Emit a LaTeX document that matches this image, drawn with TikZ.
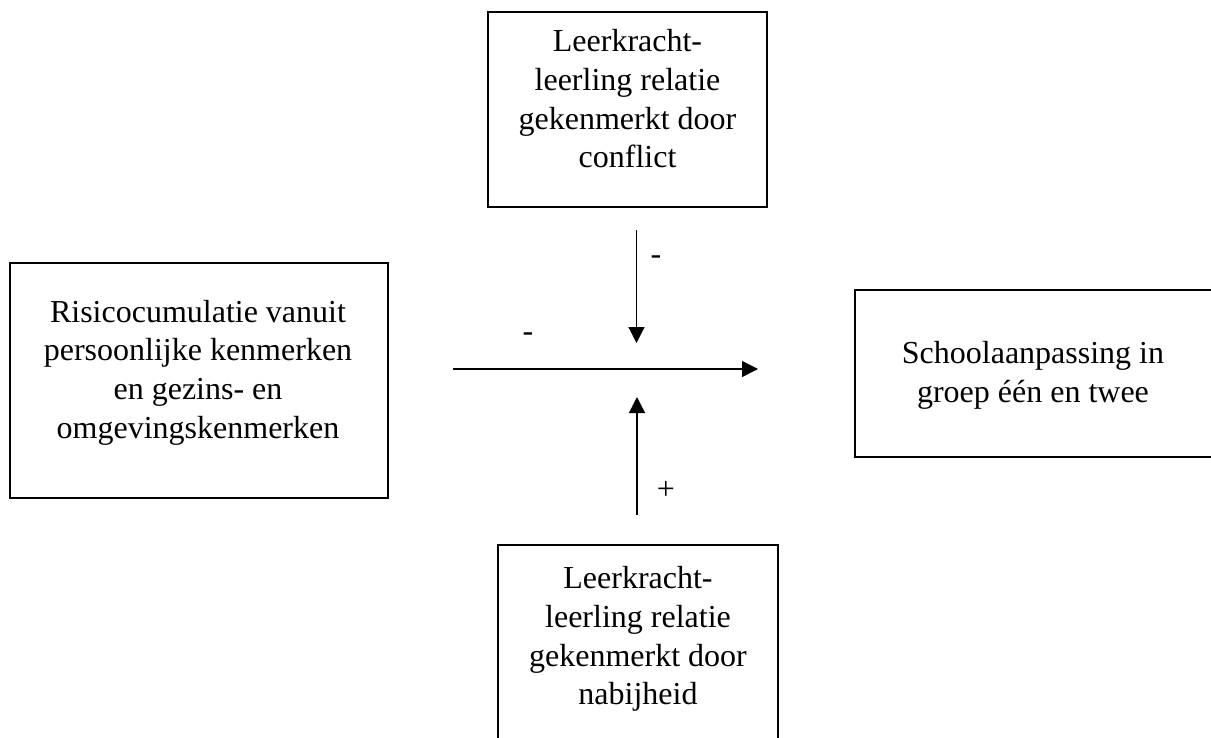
\documentclass[tikz,border=0pt]{standalone}
\usepackage{fontspec}
\setmainfont{Liberation Serif}
\usetikzlibrary{arrows.meta}
\begin{document}
\begin{tikzpicture}[x=0.5pt,y=-0.5pt,
  box/.style={draw=black, line width=1pt, rectangle, inner sep=0pt, fill=none},
  txt/.style={align=center, inner sep=0pt, font=\fontsize{16}{19.35}\selectfont},
  lbl/.style={inner sep=0pt, font=\fontsize{16}{19.35}\selectfont},
  arr/.style={line width=0.6pt, -{Triangle[length=8pt,width=8pt]}}]
\fill[white] (0,0) rectangle (1211,738);
\useasboundingbox (0,0) rectangle (1211,738);
\clip (0,0) rectangle (1211,738);
% boxes
\node[box, minimum width=139.5pt, minimum height=97.5pt] (top) at (627.5,109.5) {};
\node[box, minimum width=189pt, minimum height=117.5pt] (left) at (199,380.5) {};
\node[box, minimum width=179pt, minimum height=83.5pt] (right) at (1034,373.5) {};
\node[box, minimum width=140pt, minimum height=107.5pt] (bottom) at (638,652.5) {};
% texts
\node[txt] (toptxt) at (627.5,99) {Leerkracht-\\leerling relatie\\gekenmerkt door\\conflict};
\node[txt] (lefttxt) at (198,372.5) {Risicocumulatie vanuit\\persoonlijke kenmerken\\en gezins- en\\omgevingskenmerken};
\node[txt] (righttxt) at (1033,375) {Schoolaanpassing in\\groep één en twee};
\node[txt] (bottomtxt) at (638,639) {Leerkracht-\\leerling relatie\\gekenmerkt door\\nabijheid};
% arrow end points
\coordinate (hs) at (453,369);
\coordinate (he) at (758,369);
\coordinate (ds) at (636.5,230);
\coordinate (de) at (636.5,343);
\coordinate (us) at (637,515);
\coordinate (ue) at (637,397);
\draw[arr] (hs) -- (he);
\draw[arr] (ds) -- (de);
\draw[arr] (us) -- (ue);
% labels
\node[lbl] (mtop) at (656,260) {-};
\node[lbl] (mleft) at (528,337) {-};
\node[lbl] (plus) at (666,490) {+};
\end{tikzpicture}
\end{document}
